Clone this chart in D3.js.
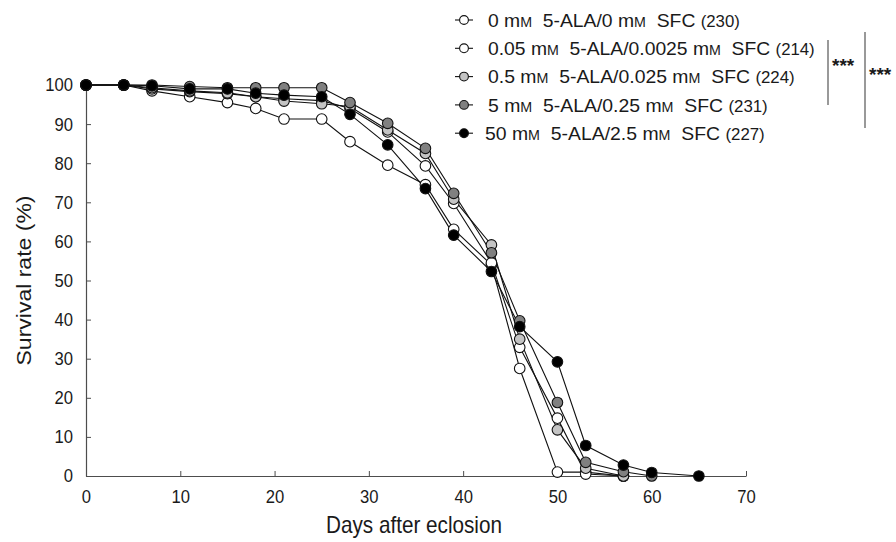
<!DOCTYPE html>
<html>
<head>
<meta charset="utf-8">
<script src="https://cdn.jsdelivr.net/npm/d3@7"></script>
<style>
  html, body { margin: 0; padding: 0; background: #fff; }
  svg { display: block; font-family: "Liberation Sans", Arial, sans-serif; }
</style>
</head>
<body>
<svg id="chart" width="896" height="542"></svg>
<script>
// Sampling days (days after eclosion)
const days = [0, 4, 7, 11, 15, 18, 21, 25, 28, 32, 36, 39, 43, 46, 50, 53, 57, 60, 65];

// Survival rate (%) per group, one value per sampling day until the group dies out
const surv0    = [100, 100, 98.5, 97.0, 95.5, 94.0, 91.3, 91.3, 85.5, 79.5, 74.5, 63.1, 54.0, 27.5, 1.0, 1.0, 0];
const surv005  = [100, 100, 99.0, 98.3, 97.8, 97.0, 96.5, 96.0, 94.0, 88.0, 79.3, 69.7, 54.5, 32.9, 14.8, 0.5, 0];
const surv05   = [100, 100, 99.3, 98.5, 98.0, 97.0, 95.9, 95.2, 94.5, 88.5, 82.5, 70.8, 59.1, 35.0, 11.8, 2.0, 0];
const surv5    = [100, 100, 100, 99.6, 99.3, 99.3, 99.3, 99.3, 95.5, 90.2, 83.8, 72.3, 57.1, 39.7, 18.8, 3.5, 1.1, 0];
const surv50   = [100, 100, 99.8, 99.0, 99.0, 97.9, 97.4, 97.0, 92.5, 84.7, 73.5, 61.6, 52.3, 38.2, 29.2, 7.8, 2.8, 0.9, 0];

// Legend parts: ALA dose, SFC dose, number of flies
const alaDoses = ["0", "0.05", "0.5", "5", "50"];
const sfcDoses = ["0", "0.0025", "0.025", "0.25", "2.5"];
const counts   = ["230", "214", "224", "231", "227"];
const fills    = ["#ffffff", "#ffffff", "#c4c4c4", "#808080", "#000000"];
const seriesValues = [surv0, surv005, surv05, surv5, surv50];

const xTicks = [0, 10, 20, 30, 40, 50, 60, 70];
const yTicks = [0, 10, 20, 30, 40, 50, 60, 70, 80, 90, 100];

const svg = d3.select("#chart");

const x = d3.scaleLinear().domain([0, 70]).range([86, 746]);
const y = d3.scaleLinear().domain([0, 100]).range([476, 85]);

const axisColor = "#4d4d4d";
const textColor = "#1a1a1a";
const squeeze = 0.9; // horizontal narrowing of the lettering

// narrow a text node horizontally around its anchor point
function narrow(sel, k) {
  sel.each(function () {
    const t = d3.select(this);
    const ax = +t.attr("x") || 0;
    const prev = t.attr("transform") || "";
    t.attr("transform", `${prev} translate(${ax},0) scale(${k},1) translate(${-ax},0)`);
  });
}

// X axis with inward ticks
const xAxis = svg.append("g")
  .attr("transform", `translate(0,${y(0)})`)
  .call(d3.axisBottom(x).tickValues(xTicks).tickSize(-5).tickPadding(14).tickSizeOuter(0));
xAxis.select(".domain").attr("stroke", axisColor).attr("stroke-width", 1.2);
xAxis.selectAll(".tick line").attr("stroke", axisColor);
xAxis.selectAll(".tick text")
  .attr("font-size", 18.5).attr("fill", textColor)
  .attr("font-family", "Liberation Sans, Arial, sans-serif")
  .call(narrow, squeeze);

// Y axis with inward ticks
const yAxis = svg.append("g")
  .attr("transform", `translate(${x(0)},0)`)
  .call(d3.axisLeft(y).tickValues(yTicks).tickSize(-5).tickPadding(13).tickSizeOuter(0));
yAxis.select(".domain").attr("stroke", axisColor).attr("stroke-width", 1.2);
yAxis.selectAll(".tick line").attr("stroke", axisColor);
yAxis.selectAll(".tick text")
  .attr("font-size", 18.5).attr("fill", textColor)
  .attr("font-family", "Liberation Sans, Arial, sans-serif");
yAxis.selectAll(".tick text").each(function () {
  // right-aligned labels: narrow around their right edge
  const t = d3.select(this);
  const ax = +t.attr("x");
  t.attr("transform", `translate(${ax},0) scale(${squeeze},1) translate(${-ax},0)`);
});

// Axis titles
svg.append("text")
  .attr("x", 414).attr("y", 533)
  .attr("text-anchor", "middle")
  .attr("font-size", 23).attr("fill", textColor)
  .text("Days after eclosion")
  .call(narrow, squeeze);

svg.append("text")
  .attr("transform", `translate(31,${(y(0) + y(100)) / 2}) scale(${squeeze},1) rotate(-90)`)
  .attr("text-anchor", "middle")
  .attr("font-size", 23).attr("fill", textColor)
  .text("Survival rate (%)");

// Survival curves
const line = d3.line().x(d => x(d[0])).y(d => y(d[1]));
const groups = seriesValues.map((vals, i) => ({
  fill: fills[i],
  pts: vals.map((v, j) => [days[j], v])
}));

const plot = svg.append("g");
groups.forEach(g => {
  plot.append("path")
    .datum(g.pts)
    .attr("d", line)
    .attr("fill", "none")
    .attr("stroke", "#111")
    .attr("stroke-width", 1.1);
});
groups.forEach(g => {
  plot.append("g").selectAll("circle")
    .data(g.pts)
    .join("circle")
    .attr("cx", d => x(d[0]))
    .attr("cy", d => y(d[1]))
    .attr("r", 5.3)
    .attr("fill", g.fill)
    .attr("stroke", "#111")
    .attr("stroke-width", 1.1);
});

// Legend: each row is fitted between its start and end x
const legendStartX = [488, 488, 488, 488, 485];
const legendEndX   = [740, 815, 795, 768, 765];
const legend = svg.append("g");
alaDoses.forEach((a, i) => {
  const ly = 20 + i * 28.3;
  const row = legend.append("g");
  row.append("line")
    .attr("x1", 455).attr("x2", 473).attr("y1", ly).attr("y2", ly)
    .attr("stroke", "#111").attr("stroke-width", 1.1);
  row.append("circle")
    .attr("cx", 464).attr("cy", ly).attr("r", 4.4)
    .attr("fill", fills[i]).attr("stroke", "#111").attr("stroke-width", 1.1);
  const sx = legendStartX[i];
  const t = row.append("text")
    .attr("x", sx).attr("y", ly + 6.8)
    .attr("font-size", 19).attr("fill", textColor)
    .attr("xml:space", "preserve");
  t.append("tspan").text(`${a} m`);
  t.append("tspan").attr("font-size", 14).text("M");
  t.append("tspan").text(`  5-ALA/${sfcDoses[i]} m`);
  t.append("tspan").attr("font-size", 14).text("M");
  t.append("tspan").text("  SFC ");
  t.append("tspan").attr("font-size", 16.5).text(`(${counts[i]})`);
  const w = t.node().getBBox().width;
  const k = (legendEndX[i] - sx) / w;
  t.attr("transform", `translate(${sx},0) scale(${k},1) translate(${-sx},0)`);
});

// Significance brackets
const sig = svg.append("g");
sig.append("line").attr("x1", 828).attr("x2", 828).attr("y1", 40).attr("y2", 105)
  .attr("stroke", "#555").attr("stroke-width", 1.2);
sig.append("text").attr("x", 832).attr("y", 72).attr("font-size", 19).attr("font-weight", "bold")
  .attr("fill", textColor).text("***");
sig.append("line").attr("x1", 865).attr("x2", 865).attr("y1", 32).attr("y2", 128)
  .attr("stroke", "#555").attr("stroke-width", 1.2);
sig.append("text").attr("x", 869).attr("y", 81).attr("font-size", 19).attr("font-weight", "bold")
  .attr("fill", textColor).text("***");
</script>
</body>
</html>
